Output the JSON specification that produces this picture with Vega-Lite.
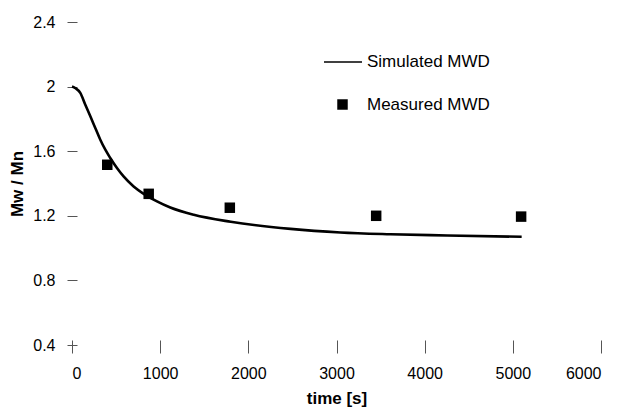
{
  "$schema": "https://vega.github.io/schema/vega-lite/v6.json",
  "width": 529,
  "height": 323,
  "autosize": "none",
  "padding": {"left": 72, "top": 22, "right": 20, "bottom": 62},
  "background": "white",
  "config": {
    "view": {"stroke": null},
    "font": "Liberation Sans",
    "axis": {"grid": false, "domain": false, "labelFont": "Liberation Sans", "labelFontSize": 16, "labelColor": "black", "titleFont": "Liberation Sans", "titleFontSize": 17, "titleFontWeight": "bold", "titleColor": "black"}
  },
  "datasets": {
    "sim": [
      {"time": 0, "mwd": 2.0, "series": "Simulated MWD"},
      {"time": 40, "mwd": 1.99, "series": "Simulated MWD"},
      {"time": 94, "mwd": 1.961, "series": "Simulated MWD"},
      {"time": 151, "mwd": 1.888, "series": "Simulated MWD"},
      {"time": 208, "mwd": 1.816, "series": "Simulated MWD"},
      {"time": 264, "mwd": 1.744, "series": "Simulated MWD"},
      {"time": 321, "mwd": 1.671, "series": "Simulated MWD"},
      {"time": 378, "mwd": 1.609, "series": "Simulated MWD"},
      {"time": 434, "mwd": 1.558, "series": "Simulated MWD"},
      {"time": 510, "mwd": 1.496, "series": "Simulated MWD"},
      {"time": 585, "mwd": 1.444, "series": "Simulated MWD"},
      {"time": 699, "mwd": 1.382, "series": "Simulated MWD"},
      {"time": 831, "mwd": 1.33, "series": "Simulated MWD"},
      {"time": 964, "mwd": 1.289, "series": "Simulated MWD"},
      {"time": 1115, "mwd": 1.251, "series": "Simulated MWD"},
      {"time": 1381, "mwd": 1.206, "series": "Simulated MWD"},
      {"time": 1800, "mwd": 1.163, "series": "Simulated MWD"},
      {"time": 2479, "mwd": 1.119, "series": "Simulated MWD"},
      {"time": 3045, "mwd": 1.097, "series": "Simulated MWD"},
      {"time": 3611, "mwd": 1.086, "series": "Simulated MWD"},
      {"time": 4257, "mwd": 1.078, "series": "Simulated MWD"},
      {"time": 5100, "mwd": 1.07, "series": "Simulated MWD"}
    ],
    "meas": [
      {"time": 400, "mwd": 1.516, "series": "Measured MWD"},
      {"time": 870, "mwd": 1.336, "series": "Measured MWD"},
      {"time": 1790, "mwd": 1.25, "series": "Measured MWD"},
      {"time": 3450, "mwd": 1.2, "series": "Measured MWD"},
      {"time": 5094, "mwd": 1.195, "series": "Measured MWD"}
    ]
  },
  "layer": [
    {
      "mark": {"type": "rule", "color": "#444", "strokeWidth": 1},
      "encoding": {"y": {"datum": 0.4, "type": "quantitative"}}
    },
    {
      "mark": {"type": "rule", "color": "#999", "strokeWidth": 1},
      "encoding": {"x": {"datum": 0, "type": "quantitative"}}
    },
    {
      "data": {"name": "sim"},
      "mark": {"type": "line", "strokeWidth": 2.6, "interpolate": "monotone"},
      "encoding": {
        "x": {"field": "time", "type": "quantitative", "scale": {"domain": [0, 6000], "nice": false, "zero": false},
          "axis": {"title": "time [s]", "values": [0, 1000, 2000, 3000, 4000, 5000, 6000], "format": "d", "offset": -5, "tickSize": 13, "tickColor": "#555", "labelPadding": 12, "titlePadding": 9}},
        "y": {"field": "mwd", "type": "quantitative", "scale": {"domain": [0.4, 2.4], "nice": false, "zero": false},
          "axis": {"title": "Mw / Mn", "values": [0.4, 0.8, 1.2, 1.6, 2.0, 2.4], "format": "~g", "offset": -5, "tickSize": 10, "tickColor": "#555", "labelPadding": 12, "titlePadding": 6}},
        "color": {"field": "series", "type": "nominal", "scale": {"domain": ["Simulated MWD"], "range": ["black"]},
          "legend": {"title": null, "orient": "none", "legendX": 251, "legendY": 20, "labelFontSize": 17, "labelFont": "Liberation Sans", "labelColor": "black", "labelOffset": 4, "symbolType": "stroke", "symbolSize": 1444, "symbolStrokeWidth": 1.5, "symbolStrokeColor": "black"}}
      }
    },
    {
      "data": {"name": "meas"},
      "mark": {"type": "point", "filled": true, "color": "black", "opacity": 1, "size": 110},
      "encoding": {
        "x": {"field": "time", "type": "quantitative"},
        "y": {"field": "mwd", "type": "quantitative"},
        "shape": {"field": "series", "type": "nominal",
          "scale": {"domain": ["Measured MWD"], "range": ["square"]},
          "legend": {"title": null, "orient": "none", "legendX": 262, "legendY": 74, "labelFontSize": 17, "labelFont": "Liberation Sans", "labelColor": "black", "labelOffset": 16, "symbolOpacity": 1, "symbolFillColor": "black", "symbolSize": 110}}
      }
    }
  ]
}
